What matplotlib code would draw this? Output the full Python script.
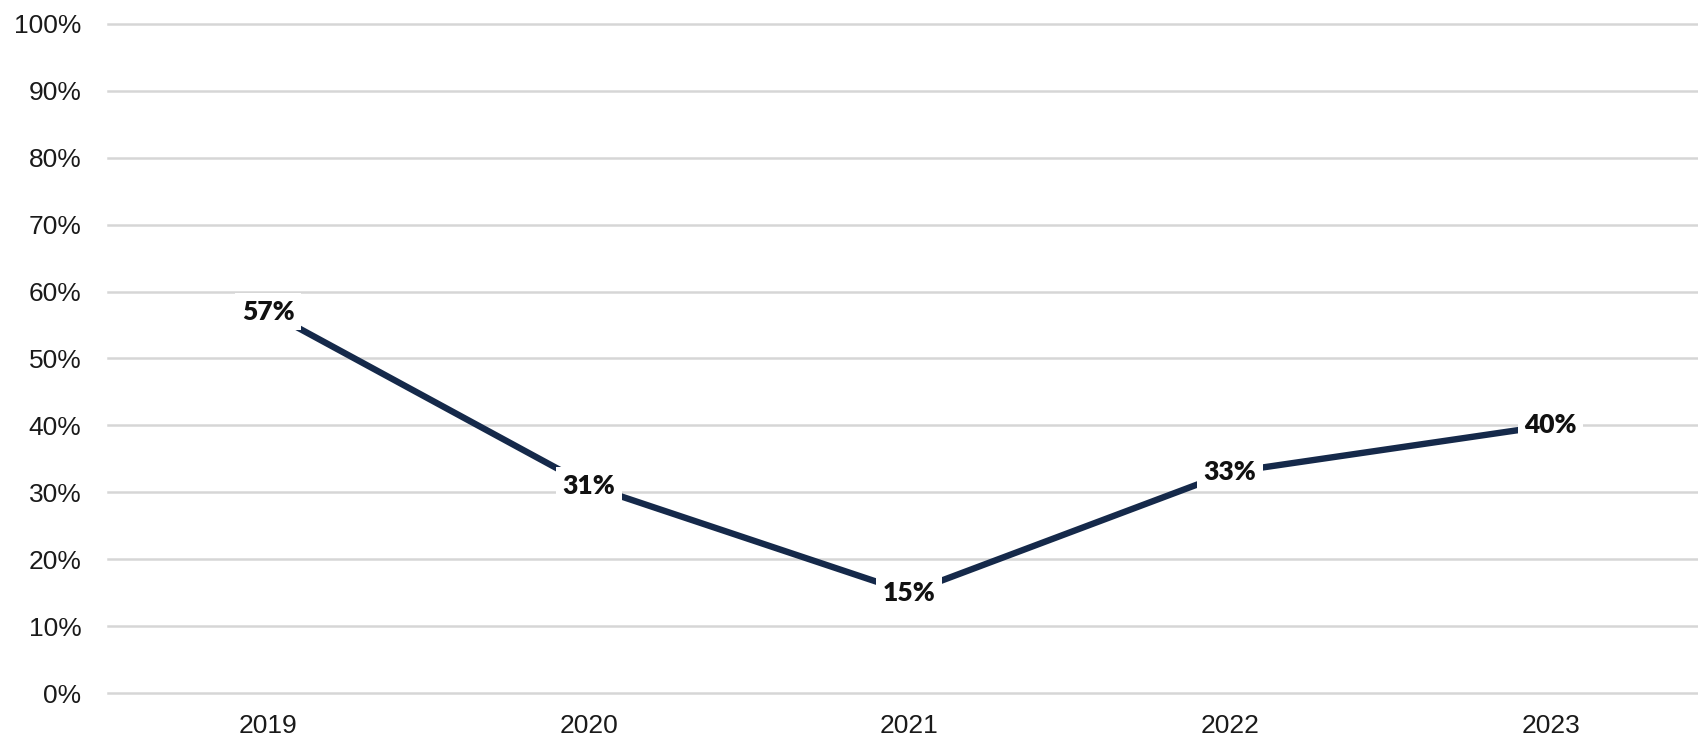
import matplotlib.pyplot as plt

# dados
anos = ["2019", "2020", "2021", "2022", "2023"]
valores = [57, 31, 15, 33, 40]
yticks = [0, 10, 20, 30, 40, 50, 60, 70, 80, 90, 100]

fig = plt.figure(figsize=(16.98, 7.35), dpi=100)
ax = fig.add_axes([0.0636, 0.0571, 0.9364, 0.9103])

x = list(range(len(anos)))
ax.plot(x, valores, color="#15294a", linewidth=4.6, solid_capstyle="butt", zorder=3)

# rotulos dos pontos
for xi, v in zip(x, valores):
    ax.text(xi, v, f"{v}%", ha="center", va="center", fontsize=19,
            fontweight="heavy", family="Lato", color="#111111", zorder=4,
            bbox=dict(boxstyle="square,pad=0.25", fc="white", ec="none"))

ax.set_xlim(-0.5, 4.46)
ax.set_ylim(0, 100)
ax.set_xticks(x)
ax.set_xticklabels(anos, fontsize=19, family="Liberation Sans", color="#1a1a1a")
ax.set_yticks(yticks)
ax.set_yticklabels([f"{t}%" for t in yticks], fontsize=19,
                   family="Liberation Sans", color="#1a1a1a")
ax.tick_params(length=0, pad=15)
ax.tick_params(axis="y", pad=19)
ax.grid(axis="y", color="#d6d6d6", linewidth=1.8)
for gl in ax.get_ygridlines():
    gl.set_clip_on(False)
ax.set_axisbelow(True)
for s in ax.spines.values():
    s.set_visible(False)

fig.savefig("out.png", dpi=100)
